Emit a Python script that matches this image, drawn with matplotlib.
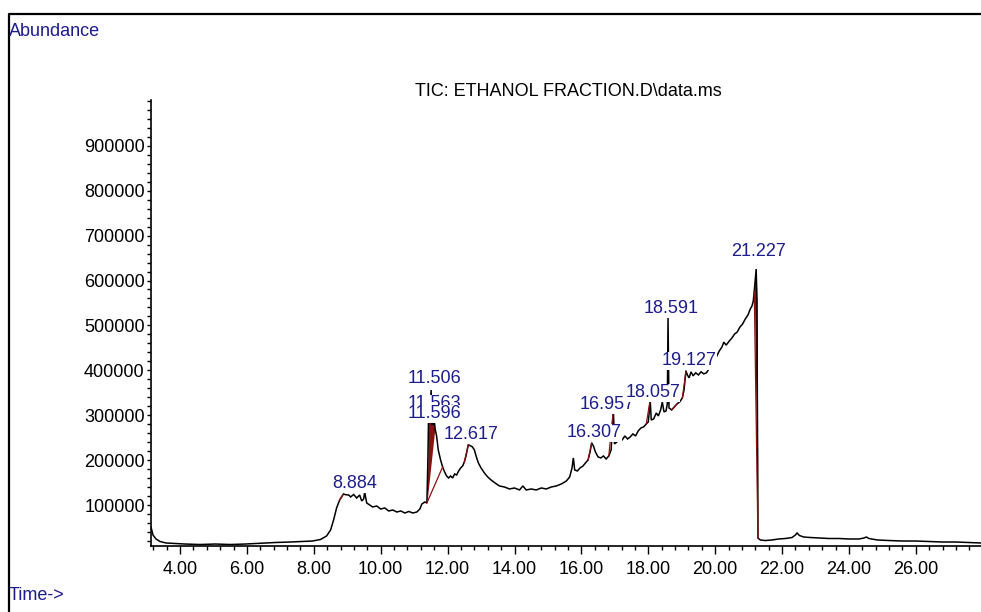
"""Total ion chromatogram of the ethanol fraction, drawn in ChemStation style.

Writes out.png.
"""

import matplotlib

matplotlib.use("Agg")
import matplotlib.pyplot as plt
import numpy as np
from matplotlib.lines import Line2D
from matplotlib.ticker import FormatStrFormatter, MultipleLocator

# TIC trace: retention time (min) and abundance
ret_time = [
    3.13, 3.19, 3.28, 3.40, 3.58, 3.85, 4.15, 4.60, 5.05, 5.50,
    5.95, 6.25, 6.55, 6.85, 7.30, 7.60, 7.96, 8.20, 8.38, 8.50,
    8.59, 8.68, 8.77, 8.884, 8.95, 9.04, 9.10, 9.19, 9.28, 9.37,
    9.43, 9.49, 9.52, 9.58, 9.67, 9.76, 9.88, 10.00, 10.12, 10.24,
    10.36, 10.48, 10.60, 10.72, 10.84, 10.96, 11.08, 11.17, 11.23, 11.32,
    11.38, 11.41, 11.44, 11.47, 11.506, 11.53, 11.563, 11.58, 11.596, 11.62,
    11.67, 11.72, 11.79, 11.85, 11.91, 11.97, 12.03, 12.09, 12.15, 12.21,
    12.27, 12.33, 12.39, 12.45, 12.50, 12.55, 12.617, 12.68, 12.74, 12.80,
    12.86, 12.92, 13.00, 13.10, 13.20, 13.30, 13.42, 13.55, 13.70, 13.85,
    14.00, 14.15, 14.25, 14.35, 14.50, 14.65, 14.80, 14.95, 15.10, 15.25,
    15.40, 15.55, 15.65, 15.72, 15.76, 15.80, 15.88, 15.96, 16.05, 16.12,
    16.20, 16.26, 16.307, 16.36, 16.42, 16.50, 16.58, 16.66, 16.74, 16.82,
    16.89, 16.957, 16.99, 17.10, 17.22, 17.30, 17.38, 17.46, 17.54, 17.62,
    17.70, 17.78, 17.86, 17.94, 18.00, 18.03, 18.057, 18.09, 18.16, 18.24,
    18.30, 18.37, 18.42, 18.47, 18.53, 18.57, 18.591, 18.62, 18.70, 18.78,
    18.86, 18.94, 19.02, 19.07, 19.10, 19.127, 19.17, 19.22, 19.28, 19.34,
    19.42, 19.50, 19.58, 19.66, 19.74, 19.85, 19.95, 20.05, 20.12, 20.20,
    20.26, 20.33, 20.42, 20.50, 20.58, 20.66, 20.74, 20.82, 20.90, 20.98,
    21.05, 21.10, 21.14, 21.17, 21.20, 21.227, 21.25, 21.28, 21.35, 21.50,
    21.70, 21.90, 22.10, 22.30, 22.40, 22.45, 22.52, 22.65, 22.85, 23.10,
    23.40, 23.70, 24.00, 24.30, 24.45, 24.52, 24.60, 24.85, 25.20, 25.60,
    26.00, 26.40, 26.80, 27.20, 27.60, 27.95,
]
abundance = [
    51000, 33200, 24300, 18700, 15400, 14300, 13100, 12000, 13100, 12000,
    13100, 14300, 15400, 16500, 17600, 18700, 19800, 23200, 31000, 44300,
    66600, 93400, 111000, 124500, 123000, 122300, 117900, 123400, 115600, 122300,
    109000, 113400, 129000, 104500, 100000, 95600, 97800, 91100, 93400, 86700,
    88900, 84400, 86700, 82200, 85600, 82200, 84400, 91100, 102300, 106700,
    104500, 200000, 345000, 289000, 356000, 278000, 312000, 278000, 294000, 271600,
    253800, 222600, 200300, 184700, 173500, 164600, 160200, 164600, 160200, 169100,
    166900, 175800, 182500, 187000, 195800, 209200, 234000, 232000, 229500, 222600,
    207000, 193600, 182500, 171300, 162400, 155700, 149000, 142400, 140100, 135700,
    137900, 133500, 142400, 133500, 135700, 133500, 137900, 135700, 140100, 142400,
    146800, 153500, 162400, 182500, 204800, 178000, 175800, 182500, 187000, 193600,
    200300, 218100, 238200, 231500, 218100, 207000, 204800, 209200, 202600, 209200,
    222600, 311800, 236000, 242700, 244900, 253800, 247100, 251600, 258300, 253800,
    265000, 271600, 273800, 280500, 285000, 307300, 334000, 289300, 291600, 305000,
    298300, 311800, 329600, 307300, 309500, 325100, 516900, 316200, 311800, 318500,
    325100, 329600, 338500, 356300, 378600, 398600, 389700, 383200, 396600, 387700,
    394400, 389700, 396600, 392100, 394400, 407000, 420400, 431500, 442700, 451500,
    462700, 456100, 465000, 471800, 480700, 485200, 496300, 503000, 514100, 523100,
    536400, 543100, 554200, 576500, 603300, 625600, 554200, 26500, 22100, 20900,
    22100, 24300, 25400, 27600, 33200, 37700, 32100, 28700, 27600, 26500,
    25400, 25400, 24300, 24300, 26500, 28700, 25400, 22100, 20900, 19800,
    19800, 18700, 17600, 17600, 16500, 15400,
]

# integrated peaks (apex retention time, min)
peak_times = [8.884, 11.506, 11.563, 11.596, 12.617, 16.307,
              16.957, 18.057, 18.591, 19.127, 21.227]

# integration baselines (start, end) and the windows drawn filled
baseline_windows = [(8.77, 8.884), (11.38, 11.85), (12.50, 12.617),
                    (16.20, 16.307), (16.82, 16.957), (17.94, 18.057),
                    (18.70, 18.86), (19.02, 19.127), (21.17, 21.28)]
shaded_windows = [(11.38, 11.62), (21.17, 21.28)]

# where each peak label sits (time, abundance)
LABEL_POS = [(9.22, 146800), (11.62, 380800), (11.62, 325100), (11.62, 302800),
             (12.70, 256000), (16.39, 260500), (16.78, 322900), (18.13, 349700),
             (18.67, 536800), (19.21, 421000), (21.31, 663700)]

FONT = "Liberation Sans"
NAVY = "#1c1c8e"
INTEG_RED = "#8b1010"
W, H = 981, 612


def _baseline(t, y, start, end):
    """Straight baseline between the trace values at start and end."""
    return np.array([start, end]), np.interp([start, end], t, y)


def draw_chromatogram(path="out.png"):
    t = np.asarray(ret_time)
    y = np.asarray(abundance, dtype=float)

    fig = plt.figure(figsize=(W / 100, H / 100), dpi=100)
    ax = fig.add_axes([151 / W, 1 - 546 / H, 830 / W, 446 / H])

    ax.plot(t, y, color="black", lw=1.1, zorder=3, solid_joinstyle="miter")

    for start, end in baseline_windows:
        bx, by = _baseline(t, y, start, end)
        ax.plot(bx, by, color=INTEG_RED, lw=0.9, zorder=4)

    for start, end in shaded_windows:
        bx, by = _baseline(t, y, start, end)
        mask = (t >= start) & (t <= end)
        xs = t[mask]
        ax.fill_between(xs, y[mask], np.interp(xs, bx, by),
                        color=INTEG_RED, lw=0, zorder=2)

    for i, (rt, (lx, ly)) in enumerate(zip(peak_times, LABEL_POS)):
        ax.text(lx, ly, f"{rt:.3f}", ha="center", va="center",
                fontsize=13, family=FONT, color=NAVY, zorder=10 + i,
                clip_on=False,
                bbox=dict(boxstyle="square,pad=0.02", fc="white", ec="none"))

    ax.set_xlim(3.13, 27.95)
    ax.set_ylim(8700, 1002000)

    for side in ("top", "right"):
        ax.spines[side].set_visible(False)
    ax.spines["left"].set_linewidth(1.2)
    ax.spines["bottom"].set_linewidth(1.2)

    ax.set_xticks(np.arange(4, 27, 2))
    ax.xaxis.set_minor_locator(MultipleLocator(0.4))
    ax.xaxis.set_major_formatter(FormatStrFormatter("%.2f"))
    ax.set_yticks(np.arange(100000, 900001, 100000))
    ax.yaxis.set_minor_locator(MultipleLocator(20000))
    ax.yaxis.set_major_formatter(FormatStrFormatter("%d"))

    ax.tick_params(axis="x", which="major", length=6, width=1, pad=5)
    ax.tick_params(axis="x", which="minor", length=3, width=1)
    ax.tick_params(axis="y", which="both", length=3, width=1, pad=1.5)
    for lab in ax.get_xticklabels() + ax.get_yticklabels():
        lab.set_fontfamily(FONT)
        lab.set_fontsize(13)

    # page furniture around the plot
    fig.text(568 / W, 1 - 91 / H, "TIC: ETHANOL FRACTION.D\\data.ms",
             ha="center", va="center", fontsize=13, family=FONT, color="black")
    fig.text(9 / W, 1 - 31 / H, "Abundance", ha="left", va="center",
             fontsize=13, family=FONT, color=NAVY)
    fig.text(9 / W, 1 - 596 / H, "Time->", ha="left", va="center",
             fontsize=13, family=FONT, color=NAVY)
    fig.add_artist(Line2D([8.5 / W, 8.5 / W, 1.0], [0.0, 1 - 14 / H, 1 - 14 / H],
                          transform=fig.transFigure, color="black", lw=1.6))

    fig.savefig(path, dpi=100)
    plt.close(fig)


if __name__ == "__main__":
    draw_chromatogram()
